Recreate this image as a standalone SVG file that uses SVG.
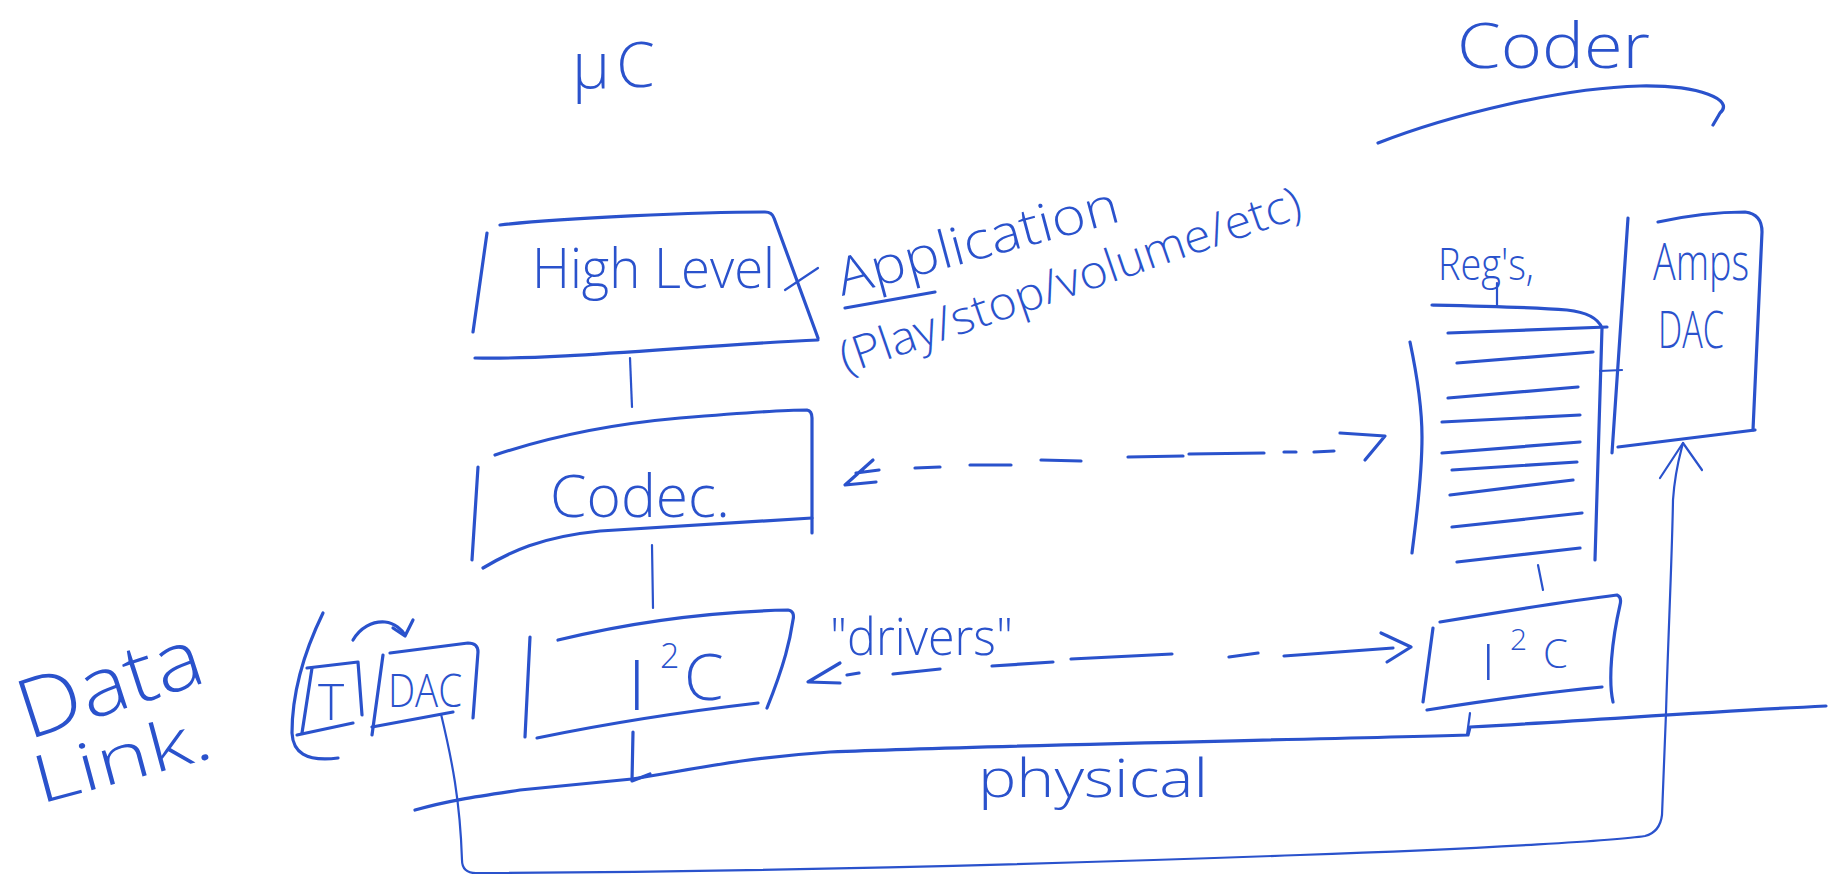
<svg xmlns="http://www.w3.org/2000/svg" width="1831" height="881" viewBox="0 0 1831 881">
  <style>
    .ink{fill:none;stroke:#2a52cc;stroke-width:3.2;stroke-linecap:round;stroke-linejoin:round}
    .thin{stroke-width:2.2}
    .lbl{fill:#2a52cc;font-family:"Open Sans","Liberation Sans",Arial,sans-serif;font-weight:300}
  </style>
  <rect width="1831" height="881" fill="#ffffff"/>

  <!-- section headings -->
  <g id="label-uc">
    <text class="lbl" x="572" y="88" font-size="64">μ<tspan font-size="62" dx="6" dy="-1">C</tspan></text>
  </g>
  <g id="label-coder">
    <text class="lbl" x="1457" y="68" font-size="62" textLength="193" lengthAdjust="spacingAndGlyphs">Coder</text>
    <path class="ink" d="M1378 143 C1450 115 1560 88 1640 86 C1700 85 1735 100 1720 113 Q1716 120 1713 125"/>
  </g>

  <!-- host side stack -->
  <g id="node-high-level">
    <path class="ink" d="M500 225 C560 218 700 212 765 212 Q772 212 774 218 L818 338"/>
    <path class="ink" d="M818 340 C700 345 560 360 475 358"/>
    <path class="ink" d="M487 233 L473 332"/>
    <text class="lbl" x="532" y="288" font-size="56" textLength="243" lengthAdjust="spacingAndGlyphs">High Level</text>
  </g>

  <g id="label-application">
    <text class="lbl" x="842" y="296" font-size="52" textLength="290" lengthAdjust="spacingAndGlyphs" transform="rotate(-15 842 296)">Application</text>
    <path class="ink" d="M845 308 L935 292"/>
    <text class="lbl" x="846" y="374" font-size="46" textLength="485" lengthAdjust="spacingAndGlyphs" transform="rotate(-19 846 374)">(Play/stop/volume/etc)</text>
  </g>

  <g id="node-codec">
    <path class="ink" d="M495 455 C540 440 600 425 680 418 C740 413 780 410 807 410 Q812 411 812 418 L812 533"/>
    <path class="ink" d="M483 568 C510 552 540 537 600 531 C700 525 770 520 812 518"/>
    <path class="ink" d="M478 467 L472 560"/>
    <text class="lbl" x="550" y="517" font-size="58" textLength="180" lengthAdjust="spacingAndGlyphs">Codec.</text>
  </g>

  <g id="node-i2c-host">
    <path class="ink" d="M530 637 L525 737"/>
    <path class="ink" d="M558 640 C620 625 700 612 788 610 Q795 611 793 620 C790 640 785 663 767 708"/>
    <path class="ink" d="M537 738 C600 725 680 712 758 703"/>
    <text class="lbl" font-size="68"><tspan x="628" y="710" font-size="70">I</tspan><tspan x="660" y="668" font-size="34">2</tspan><tspan x="684" y="700" font-size="64">C</tspan></text>
  </g>

  <!-- data link layer: timer feeding the DAC -->
  <g id="label-data-link">
    <text class="lbl" x="28" y="740" font-size="82" textLength="190" lengthAdjust="spacingAndGlyphs" transform="rotate(-18 28 740)">Data</text>
    <text class="lbl" x="40" y="804" font-size="66" textLength="182" lengthAdjust="spacingAndGlyphs" transform="rotate(-15 40 804)">Link.</text>
  </g>

  <g id="node-t">
    <path class="ink" d="M323 613 C305 650 292 690 292 733 C293 752 305 762 338 758"/>
    <path class="ink" d="M307 668 L358 662 L362 715"/>
    <path class="ink" d="M312 668 L302 733"/>
    <path class="ink" d="M297 735 L353 723"/>
    <text class="lbl" x="318" y="720" font-size="50">T</text>
  </g>

  <g id="node-dac-host">
    <path class="ink" d="M390 653 L468 643 Q478 643 478 652 L473 718"/>
    <path class="ink" d="M383 655 L372 735"/>
    <path class="ink" d="M372 727 L453 712"/>
    <text class="lbl" x="388" y="707" font-size="46" textLength="74" lengthAdjust="spacingAndGlyphs">DAC</text>
  </g>

  <!-- codec side -->
  <g id="node-regs">
    <text class="lbl" x="1438" y="280" font-size="44" textLength="96" lengthAdjust="spacingAndGlyphs">Reg's,</text>
    <path class="ink thin" d="M1497 283 L1497 305"/>
    <path class="ink" d="M1432 305 C1480 306 1530 307 1567 310 C1585 312 1598 318 1602 328 L1595 560"/>
    <path class="ink" d="M1410 342 C1418 380 1422 410 1422 437 C1422 480 1416 520 1412 553"/>
    <path class="ink" d="M1448 333 L1607 327 M1457 363 L1593 352 M1448 398 L1578 387 M1442 422 L1580 415 M1442 453 L1580 442 M1452 470 L1577 462 M1450 495 L1573 480 M1452 527 L1582 513 M1457 562 L1580 548"/>
  </g>

  <g id="node-amps-dac">
    <path class="ink" d="M1628 218 L1612 453"/>
    <path class="ink" d="M1658 222 C1690 215 1720 212 1745 212 Q1762 214 1762 232 L1753 430"/>
    <path class="ink" d="M1618 447 L1755 430"/>
    <text class="lbl" x="1653" y="280" font-size="52" textLength="96" lengthAdjust="spacingAndGlyphs">Amps</text>
    <text class="lbl" x="1658" y="348" font-size="52" textLength="66" lengthAdjust="spacingAndGlyphs">DAC</text>
  </g>

  <g id="node-i2c-codec">
    <path class="ink" d="M1440 622 C1500 612 1560 602 1617 595 Q1622 597 1620 605 C1612 640 1608 680 1613 702"/>
    <path class="ink" d="M1433 628 L1423 702"/>
    <path class="ink" d="M1427 710 C1490 700 1550 692 1602 687"/>
    <text class="lbl" font-size="50"><tspan x="1482" y="680" font-size="50">I</tspan><tspan x="1510" y="650" font-size="30">2</tspan><tspan x="1543" y="668" font-size="40">C</tspan></text>
  </g>

  <g id="label-physical">
    <text class="lbl" x="978" y="797" font-size="54" textLength="230" lengthAdjust="spacingAndGlyphs">physical</text>
  </g>

  <!-- links between layers, peer arrows, bus and return path -->
  <g id="connectors">
    <path class="ink thin" d="M785 290 L818 268"/>
    <path class="ink thin" d="M630 358 L632 407"/>
    <path class="ink thin" d="M652 545 L653 608"/>
    <path class="ink" d="M633 732 L632 781 L650 774"/>
    <path class="ink thin" d="M1538 565 L1543 590"/>
    <path class="ink thin" d="M1600 371 L1622 370"/>

    <!-- Codec <-> registers -->
    <path class="ink" d="M873 460 L845 485 L876 482 M856 473 L879 470"/>
    <path class="ink" d="M915 468 L940 467 M970 465 L1011 465 M1041 460 L1081 461 M1128 457 L1183 456 M1189 454 L1264 453 M1284 452 L1296 452 M1314 452 L1334 451"/>
    <path class="ink" d="M1340 433 L1385 436 L1365 460"/>

    <!-- "drivers" peer link -->
    <text class="lbl" x="830" y="655" font-size="52" textLength="183" lengthAdjust="spacingAndGlyphs">"drivers"</text>
    <path class="ink" d="M840 663 L808 682 L840 683"/>
    <path class="ink" d="M847 675 L859 673 M893 674 L940 669 M992 666 L1053 662 M1071 659 L1172 654 M1229 657 L1258 653 M1284 656 L1393 648"/>
    <path class="ink" d="M1381 633 L1411 647 L1387 662"/>

    <!-- physical bus -->
    <path class="ink" d="M415 810 C450 800 480 796 520 790 L632 779 C690 770 740 758 830 752 C1000 745 1300 740 1468 735 L1470 727 C1600 720 1700 712 1826 706"/>
    <path class="ink thin" d="M1470 713 L1467 735"/>

    <!-- timer arc into DAC -->
    <path class="ink" d="M353 640 C360 628 372 621 385 622 C395 623 402 630 405 635"/>
    <path class="ink" d="M393 628 L405 636 L413 620"/>

    <!-- DAC output loop to the amplifier -->
    <path class="ink thin" d="M441 714 C452 760 460 800 462 860 Q462 873 476 873 C700 872 1000 866 1300 855 C1500 848 1620 840 1645 836 Q1660 832 1662 815 L1666 713 C1668 640 1672 560 1673 500 C1675 470 1680 455 1683 443"/>
    <path class="ink thin" d="M1660 478 L1683 443 L1702 470"/>
  </g>
</svg>
